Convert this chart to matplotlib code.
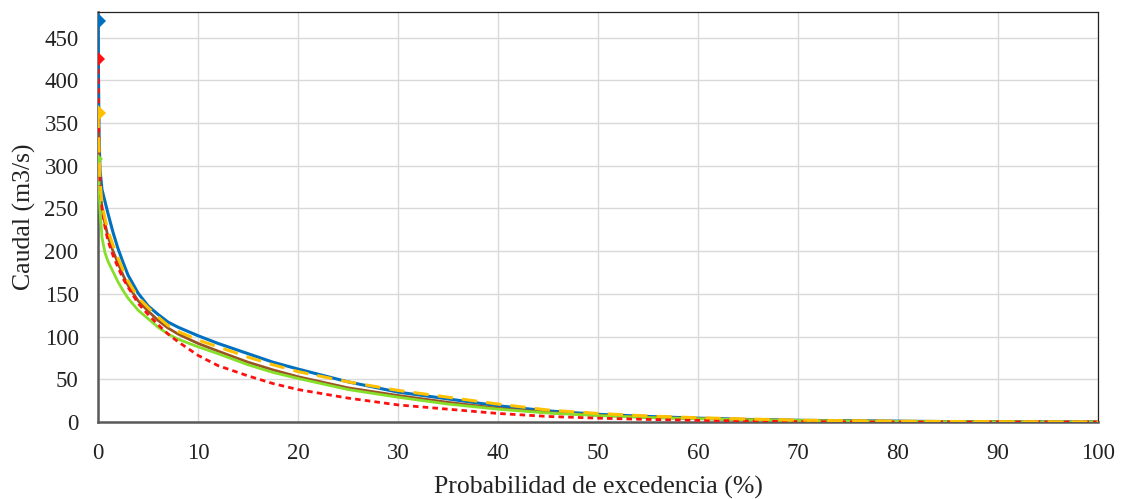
"""
Curvas de duración de caudales: caudal vs. probabilidad de excedencia.
"""

import matplotlib
matplotlib.use("Agg")
import matplotlib.pyplot as plt

matplotlib.rcParams["font.family"] = ["Liberation Serif", "DejaVu Serif"]

# ─── datos ─────────────────────────────────────────────────────────────────
prob = [0, 0.1, 0.2, 0.4, 0.7, 1.0, 1.5, 2, 2.5, 3, 4, 5, 6, 7, 8, 10, 12, 15,
        17.5, 20, 25, 30, 35, 40, 45, 50, 55, 60, 65, 70, 75, 80, 85, 90, 95, 100]

caudal_azul = [470, 340, 295, 272, 258, 244, 222, 203, 187, 172, 151, 136, 126,
               117, 111, 101, 92, 80, 70, 62, 47, 35, 27, 19, 13, 9, 6.5, 4.5,
               3, 2, 1.5, 1, 0.5, 0.3, 0.1, 0]
caudal_marron = [345, 310, 275, 250, 232, 217, 200, 186, 172, 160, 142, 130, 119,
                 110, 103, 92, 83, 70, 61, 53, 40, 31, 23, 16, 11, 8, 5.5, 4,
                 2.8, 2, 1.2, 0.8, 0.4, 0.2, 0.1, 0]
caudal_verde = [308, 275, 248, 216, 198, 188, 176, 164, 154, 145, 131, 121, 111,
                103, 97, 88, 80, 67, 58, 51, 38, 29, 21, 15, 10.5, 7.5, 5.2, 3.8,
                2.6, 1.8, 1.1, 0.7, 0.4, 0.2, 0.1, 0]
caudal_rojo = [425, 330, 280, 250, 228, 212, 195, 181, 168, 158, 139, 126, 114,
               103, 94, 78, 66, 54, 45, 38, 28, 20, 15, 10, 6.5, 4.5, 3, 2,
               1.2, 0.5, 0.2, 0, 0, 0, 0, 0]
caudal_naranja = [362, 320, 282, 255, 238, 224, 207, 192, 178, 165, 146, 134, 123,
                  113, 106, 96, 88, 76, 67, 59, 47, 37, 29, 21, 14, 10, 7, 5,
                  3.5, 2.2, 1.5, 1, 0.6, 0.3, 0.1, 0]

x_ticks = list(range(0, 101, 10))
y_ticks = list(range(0, 451, 50))

# ─── figura ────────────────────────────────────────────────────────────────
fig = plt.figure(figsize=(11.24, 4.99), dpi=100)
ax = fig.add_axes([0.0872, 0.1543, 0.8897, 0.8217])

ax.plot(prob, caudal_azul, color="#0070C0", lw=2.2, zorder=3)
ax.plot(prob, caudal_marron, color="#9A5224", lw=2.0, zorder=4)
ax.plot(prob, caudal_verde, color="#86E02A", lw=2.0, zorder=4)
ax.plot(prob, caudal_rojo, color="#FF1010", lw=2.0, ls=(0, (2, 1.5)), zorder=5)
ax.plot(prob, caudal_naranja, color="#FFC000", lw=2.2, ls=(0, (5, 3)), zorder=6)

# máximos de cada serie
for serie, color, ms in [(caudal_azul, "#0070C0", 8), (caudal_rojo, "#FF1010", 7),
                         (caudal_naranja, "#FFC000", 8), (caudal_verde, "#86E02A", 5)]:
    ax.plot(prob[0], serie[0], marker="D", ms=ms, color=color,
            markeredgewidth=0, zorder=7)

ax.set_xlim(0, 100)
ax.set_ylim(0, 480)
ax.set_xticks(x_ticks)
ax.set_yticks(y_ticks)
ax.tick_params(length=0, labelsize=16.5, colors="#222222")
ax.tick_params(axis="x", pad=15)
ax.tick_params(axis="y", pad=14)
ax.grid(color="#D9D9D9", lw=1)
ax.set_axisbelow(True)

for side in ["left", "bottom"]:
    ax.spines[side].set_color("#595959")
    ax.spines[side].set_linewidth(1.8)
for side in ["top", "right"]:
    ax.spines[side].set_color("#222222")
    ax.spines[side].set_linewidth(0.9)

ax.set_xlabel("Probabilidad de excedencia (%)", fontsize=18.5, color="#222222", labelpad=9)
ax.set_ylabel("Caudal (m3/s)", fontsize=18.5, color="#222222", labelpad=6)

fig.savefig("out.png", dpi=100)
